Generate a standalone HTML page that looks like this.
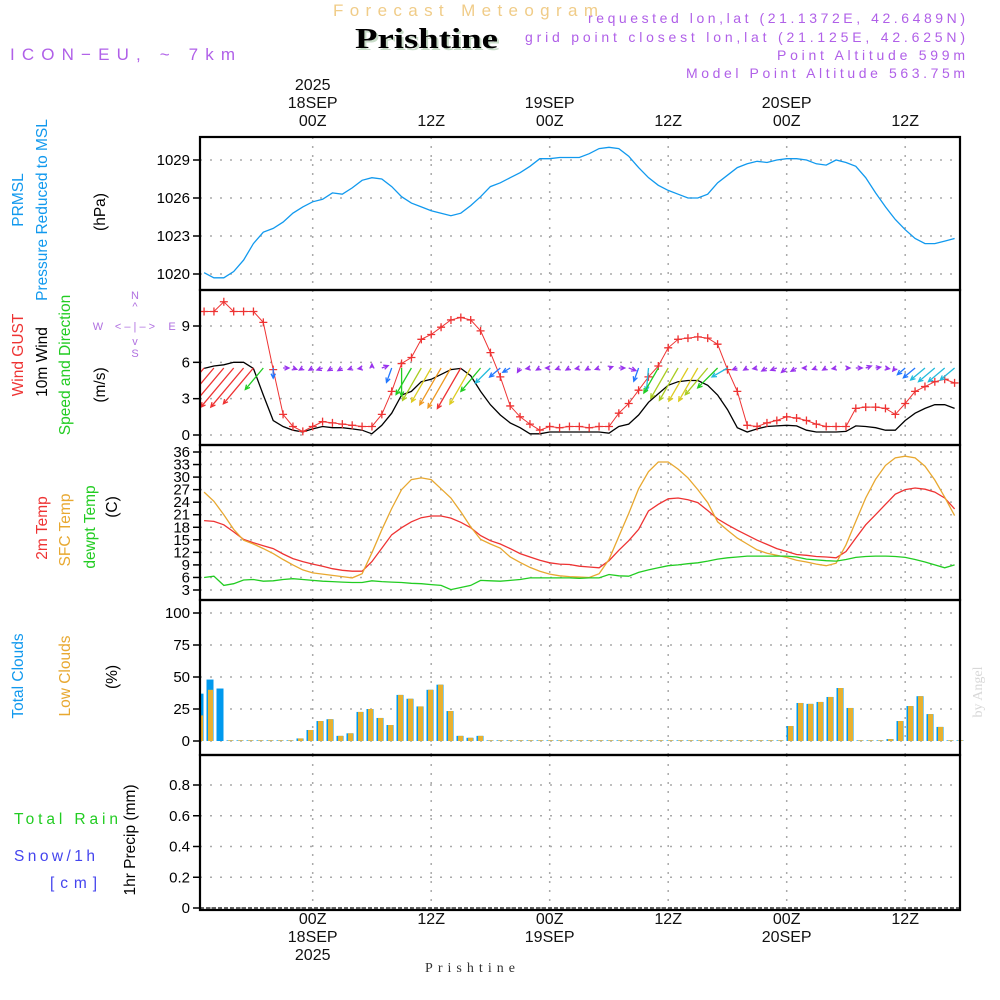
<!DOCTYPE html>
<html><head><meta charset="utf-8"><style>
html,body{margin:0;padding:0;background:#fff}
svg{display:block;font-family:"Liberation Sans",sans-serif}
</style></head><body>
<svg id="c" width="1000" height="1000" viewBox="0 0 1000 1000">
<defs><clipPath id="wclip"><rect x="200" y="290" width="760" height="155"/></clipPath></defs>
<g>
<text x="333" y="16" font-size="17" fill="#f0cc88" textLength="265" lengthAdjust="spacing">Forecast Meteogram</text>
<text x="357" y="50" font-size="28" font-weight="bold" font-family="Liberation Serif,serif" fill="#c8dcc8" textLength="143" lengthAdjust="spacingAndGlyphs">Prishtine</text>
<text x="355" y="48" font-size="28" font-weight="bold" font-family="Liberation Serif,serif" fill="#000" textLength="143" lengthAdjust="spacingAndGlyphs">Prishtine</text>
<text x="10" y="60" font-size="17" fill="#b060e8" textLength="225" lengthAdjust="spacing">ICON−EU, ~ 7km</text>
<g font-size="14" fill="#b060e8" text-anchor="end">
<text x="965" y="23" textLength="377" lengthAdjust="spacing">requested lon,lat (21.1372E, 42.6489N)</text>
<text x="965" y="42" textLength="440" lengthAdjust="spacing">grid point closest lon,lat (21.125E, 42.625N)</text>
<text x="965" y="60" textLength="188" lengthAdjust="spacing">Point Altitude 599m</text>
<text x="965" y="78" textLength="279" lengthAdjust="spacing">Model Point Altitude 563.75m</text>
</g>
</g>
<g id="labels" font-size="15.5">
<text transform="translate(23,200) rotate(-90)" text-anchor="middle" fill="#1199ee">PRMSL</text>
<text transform="translate(47,210) rotate(-90)" text-anchor="middle" fill="#1199ee">Pressure Reduced to MSL</text>
<text transform="translate(105,212) rotate(-90)" text-anchor="middle" fill="#000">(hPa)</text>
<text transform="translate(23,355) rotate(-90)" text-anchor="middle" fill="#ee3333">Wind GUST</text>
<text transform="translate(47,362) rotate(-90)" text-anchor="middle" fill="#000">10m Wind</text>
<text transform="translate(70,365) rotate(-90)" text-anchor="middle" fill="#22cc22">Speed and Direction</text>
<text transform="translate(105,385) rotate(-90)" text-anchor="middle" fill="#000">(m/s)</text>
<g fill="#b070e0" font-size="11">
<text x="135" y="299" text-anchor="middle">N</text>
<text x="135" y="310" text-anchor="middle">^</text>
<text x="98" y="330" text-anchor="middle">W</text>
<text x="135" y="330" text-anchor="middle">&lt; – | – &gt;</text>
<text x="172" y="330" text-anchor="middle">E</text>
<text x="135" y="345" text-anchor="middle">v</text>
<text x="135" y="357" text-anchor="middle">S</text>
</g>
<text transform="translate(47,528) rotate(-90)" text-anchor="middle" fill="#ee3333">2m Temp</text>
<text transform="translate(70,530) rotate(-90)" text-anchor="middle" fill="#e8a830">SFC Temp</text>
<text transform="translate(95,527) rotate(-90)" text-anchor="middle" fill="#22cc22">dewpt Temp</text>
<text transform="translate(117,507) rotate(-90)" text-anchor="middle" fill="#000">(C)</text>
<text transform="translate(23,676) rotate(-90)" text-anchor="middle" fill="#1199ee">Total Clouds</text>
<text transform="translate(70,676) rotate(-90)" text-anchor="middle" fill="#e8a830">Low Clouds</text>
<text transform="translate(117,677) rotate(-90)" text-anchor="middle" fill="#000">(%)</text>
<text transform="translate(135,840) rotate(-90)" text-anchor="middle" fill="#000">1hr Precip (mm)</text>
<text x="14" y="824" fill="#22cc22" textLength="104" lengthAdjust="spacing">Total   Rain</text>
<text x="14" y="861" fill="#4444ee" textLength="81" lengthAdjust="spacing">Snow/1h</text>
<text x="50" y="888" fill="#4444ee" textLength="47" lengthAdjust="spacing">[cm]</text>
<text transform="translate(982,692) rotate(-90)" text-anchor="middle" fill="#d8d8d8" font-size="14" font-family="Liberation Serif,serif">by Angel</text>
<text x="425" y="972" fill="#333" font-size="14" font-family="Liberation Serif,serif" textLength="90" lengthAdjust="spacing">Prishtine</text>
</g>
</svg>
<script>
const timeTicks=[0,12,24,36,48,60];
const topTimeLabels=["00Z","12Z","00Z","12Z","00Z","12Z"];
const dayLabels=["18SEP","","19SEP","","20SEP",""];
const yearLabels=["2025","","","","",""];
const pressure=[1020.1,1019.7,1019.7,1020.2,1021.1,1022.4,1023.3,1023.6,1024.1,1024.8,1025.3,1025.7,1025.9,1026.4,1026.3,1026.8,1027.4,1027.6,1027.5,1026.9,1026.1,1025.6,1025.3,1025.0,1024.8,1024.6,1024.8,1025.4,1026.1,1026.9,1027.2,1027.6,1028.0,1028.5,1029.1,1029.1,1029.2,1029.2,1029.2,1029.5,1029.9,1030.0,1029.9,1029.3,1028.4,1027.6,1027.0,1026.6,1026.3,1026.0,1026.0,1026.3,1027.2,1027.8,1028.4,1028.7,1028.9,1028.8,1029.0,1029.1,1029.1,1029.0,1028.7,1028.6,1029.0,1028.8,1028.5,1027.6,1026.4,1025.3,1024.3,1023.5,1022.8,1022.4,1022.4,1022.6,1022.8];
const pressureTicks=[1020,1023,1026,1029];
const gust=[10.2,10.2,11.0,10.2,10.2,10.2,9.3,5.4,1.7,0.7,0.3,0.7,1.1,1.0,0.9,0.8,0.7,0.7,1.7,3.6,5.9,6.4,7.9,8.3,8.9,9.5,9.7,9.5,8.6,6.8,4.8,2.4,1.5,0.9,0.4,0.7,0.6,0.7,0.7,0.6,0.7,0.7,1.8,2.6,3.7,4.8,5.7,7.2,7.9,8.0,8.1,8.0,7.5,5.4,3.6,0.8,0.7,1.0,1.2,1.5,1.4,1.2,0.9,0.7,0.7,0.7,2.2,2.3,2.3,2.2,1.7,2.6,3.6,4.0,4.4,4.6,4.3];
const wind=[5.5,5.7,5.8,6.0,6.0,5.5,3.3,1.2,0.7,0.4,0.25,0.5,0.7,0.6,0.6,0.5,0.4,0.1,0.8,1.8,3.3,3.6,4.4,4.6,5.0,5.4,5.5,4.9,3.6,2.5,1.65,1.0,0.6,0.1,0.1,0.25,0.25,0.25,0.25,0.25,0.25,0.15,0.7,0.9,1.65,2.7,3.4,4.1,4.4,4.5,4.5,4.1,3.3,2.1,0.6,0.25,0.5,0.7,0.75,0.8,0.75,0.4,0.25,0.25,0.25,0.3,0.75,0.7,0.6,0.4,0.4,1.2,1.8,2.2,2.5,2.5,2.2];
const windDir=[40,40,40,40,40,40,40,0,270,290,60,60,70,60,60,70,80,180,250,20,0,30,30,30,30,30,30,30,40,45,50,60,30,80,60,90,70,60,80,60,70,250,270,290,20,5,30,30,30,30,30,40,45,60,70,60,80,60,70,50,60,90,70,60,80,270,270,250,260,280,40,50,50,50,50,50,50];
const windTicks=[0,3,6,9];
const t2m=[19.6,19.4,18.6,16.9,15.1,14.3,13.6,12.9,11.6,10.5,9.8,9.2,8.7,8.1,7.7,7.5,7.5,9.8,13.0,16.2,17.9,19.3,20.3,20.7,20.7,20.2,19.2,17.9,16.0,14.8,14.0,12.9,11.7,10.9,10.1,9.5,9.2,9.1,8.7,8.5,8.3,10.0,12.5,14.8,17.5,21.9,23.5,24.8,25.0,24.6,23.9,22.0,20.0,18.6,17.3,16.1,14.9,13.9,12.9,12.2,11.5,11.3,11.0,10.9,10.7,12.2,15.4,18.6,21.0,23.5,25.9,27.0,27.4,27.1,26.4,25.0,22.4];
const sfcT=[26.4,24.2,21.0,17.5,14.9,14.0,12.9,11.7,10.3,9.0,7.8,7.1,6.8,6.5,6.2,5.9,6.9,11.9,17.4,22.5,27.0,29.4,29.8,29.4,27.2,25.0,21.7,18.1,15.1,14.0,13.0,10.9,9.6,8.4,7.5,6.8,6.4,6.2,6.1,6.0,6.9,10.3,15.8,21.3,27.2,31.3,33.6,33.6,31.9,29.8,27.0,23.9,19.3,17.3,15.4,14.0,12.6,11.8,11.3,10.8,10.1,9.7,9.2,8.8,9.4,13.8,19.4,25.0,29.5,32.8,34.6,35.0,34.6,32.6,29.3,25.2,20.8];
const dewpt=[6.0,6.3,4.1,4.5,5.4,5.5,5.1,5.2,5.5,5.7,5.5,5.3,5.1,5.0,4.9,4.8,4.8,5.2,5.0,4.9,4.8,4.6,4.5,4.3,4.1,3.1,3.6,4.1,5.3,5.2,5.1,5.3,5.5,5.9,5.9,5.9,5.9,5.9,5.8,5.9,5.9,6.7,6.4,6.3,7.2,7.8,8.3,8.8,9.0,9.3,9.5,9.9,10.4,10.7,10.9,11.1,11.1,11.1,11.1,11.1,10.9,10.4,10.2,10.0,9.9,10.3,10.8,11.0,11.1,11.1,11.0,10.8,10.3,9.7,9.0,8.3,9.0];
const tempTicks=[3,6,9,12,15,18,21,24,27,30,33,36];
const totalCloud=[37,48,41,0.5,0.5,0.5,0.5,0.5,0.5,0.5,2,8.6,15.6,17,4,6,22.7,25,18,12.5,36,33,27,40,44,23.4,4,2.5,4,0.5,0.5,0.5,0.5,0.5,0.5,0.5,0.5,0.5,0.5,0.5,0.5,0.5,0.5,0.5,0.5,0.5,0.5,0.5,0.5,0.5,0.5,0.5,0.5,0.5,0.5,0.5,0.5,0.5,0.5,11.7,29.7,29,30.5,34.4,41.4,25.8,0.5,0.5,0.5,1.5,15.6,27.3,35,21,11,0.5,0.5];
const lowCloud=[20,40,0,0.5,0.5,0.5,0.5,0.5,0.5,0.5,2,8.6,15.6,17,4,6,22.7,25,18,12.5,36,33,27,40,44,23.4,4,2.5,4,0.5,0.5,0.5,0.5,0.5,0.5,0.5,0.5,0.5,0.5,0.5,0.5,0.5,0.5,0.5,0.5,0.5,0.5,0.5,0.5,0.5,0.5,0.5,0.5,0.5,0.5,0.5,0.5,0.5,0.5,11.7,29.7,29,30.5,34.4,41.4,25.8,0.5,0.5,0.5,1.5,15.6,27.3,35,21,11,0.5,0.5];
const cloudTicks=[0,25,50,75,100];
const precipTicks=[0,0.2,0.4,0.6,0.8];
const startHour=-11;

const NS="http://www.w3.org/2000/svg";
const svg=document.getElementById('c');
function mk(tag,attrs,parent){const e=document.createElementNS(NS,tag);for(const k in attrs)e.setAttribute(k,attrs[k]);(parent||svg).appendChild(e);return e;}
const X0=200,X1=960;
function xT(t){return 312.7+t*9.875;}
function xHour(i){return xT(startHour+i);}
function lin(v0,y0,v1,y1){return v=>y0+(v-v0)*(y1-y0)/(v1-v0);}
const yP=lin(1020,274,1029,160);
const yW=lin(0,435,9,326);
const yTm=lin(3,590,36,452);
const yC=lin(0,741,100,613);
const yR=lin(0,908,0.8,785);
const panels=[[137,290],[290,445],[445,600],[600,755],[755,910]];

const grid=mk('g',{});


panels.forEach(p=>{timeTicks.forEach(t=>{const l=mk('line',{x1:xT(t),x2:xT(t),y1:p[0],y2:p[1],stroke:'#aaa','stroke-width':1.5,'stroke-dasharray':'2,7'},grid);});});
function yAxis(ticks,fy,fmt,name){
  const g=mk('g',{});
  
  
  ticks.forEach(v=>{const y=fy(v);
    const l=mk('line',{x1:X0,x2:X1,y1:y,y2:y,stroke:'#aaa','stroke-width':1.5,'stroke-dasharray':'2,8'},g);
    
    const tk=mk('line',{x1:X0-7,x2:X0,y1:y,y2:y,stroke:'#000','stroke-width':1.5},g);
    
    const tx=mk('text',{x:X0-10,y:y+5,'text-anchor':'end','font-size':15,fill:'#000'},g);tx.textContent=fmt(v);
    
  });
}
yAxis(pressureTicks,yP,v=>v,'pressure-axis');
yAxis(windTicks,yW,v=>v,'wind-axis');
yAxis(tempTicks,yTm,v=>v,'temp-axis');
yAxis(cloudTicks,yC,v=>v,'cloud-axis');
yAxis(precipTicks,yR,v=>v===0?'0':v.toFixed(1),'precip-axis');

timeTicks.forEach((t,i)=>{
  const x=xT(t);
  [[topTimeLabels[i],126],[dayLabels[i],108],[yearLabels[i],90]].forEach(([s,y])=>{if(!s)return;const e=mk('text',{x:x,y:y,'text-anchor':'middle','font-size':16,fill:'#111'});e.textContent=s;});
  [[topTimeLabels[i],924],[dayLabels[i],942],[yearLabels[i],960]].forEach(([s,y])=>{if(!s)return;const e=mk('text',{x:x,y:y,'text-anchor':'middle','font-size':16,fill:'#111'});e.textContent=s;});
});

function path(arr,fy,color,name,w){
  const d=arr.map((v,i)=>(i?'L':'M')+xHour(i).toFixed(1)+' '+fy(v).toFixed(1)).join(' ');
  const p=mk('path',{d:d,fill:'none',stroke:color,'stroke-width':w||1.3});
  
  
  return p;
}
path(pressure,yP,'#1199ee','pressure-line');
path(wind,yW,'#000','wind-line');
path(gust,yW,'#ee3333','gust-line',1);
const gm=mk('g',{stroke:'#ee3333','stroke-width':1.3});


gust.forEach((v,i)=>{const x=xHour(i),y=yW(v);const p=mk('path',{d:`M${x-4} ${y}H${x+4}M${x} ${y-4}V${y+4}`},gm);});

function wcol(s){if(s<1)return'#9933ee';if(s<2)return'#2277ff';if(s<3)return'#22bbdd';if(s<4)return'#22cc22';if(s<4.5)return'#aacc22';if(s<5)return'#ddcc22';if(s<5.45)return'#ee9922';return'#ee3333';}
const wa=mk('g',{'stroke-width':1.3,fill:'none','clip-path':'url(#wclip)'});


wind.forEach((s,i)=>{
  const x=xHour(i),y=368,L=Math.max(s*8.5,4),a=windDir[i]*Math.PI/180;
  const ux=-Math.sin(a),uy=Math.cos(a);
  const tx=x+ux*L,ty=y+uy*L;
  const h=5,c=Math.cos(0.45),sn=Math.sin(0.45);
  const bx=-ux,by=-uy;
  const h1x=tx+h*(bx*c-by*sn),h1y=ty+h*(bx*sn+by*c);
  const h2x=tx+h*(bx*c+by*sn),h2y=ty+h*(-bx*sn+by*c);
  const p=mk('path',{d:`M${x.toFixed(1)} ${y}L${tx.toFixed(1)} ${ty.toFixed(1)}M${h1x.toFixed(1)} ${h1y.toFixed(1)}L${tx.toFixed(1)} ${ty.toFixed(1)}L${h2x.toFixed(1)} ${h2y.toFixed(1)}`,stroke:wcol(s)},wa);
  
  
});

path(t2m,yTm,'#ee3333','t2m-line');
path(sfcT,yTm,'#e8a830','sfc-temp-line');
path(dewpt,yTm,'#22cc22','dewpt-line');

function xBar(i){return 200+10*i;}
const cg=mk('g',{});


totalCloud.forEach((v,i)=>{
  const x=xBar(i)-3.5,y0=yC(0);
  const b=mk('rect',{x:Math.max(x,X0),y:yC(v),width:x<X0?7-(X0-x):7,height:y0-yC(v),fill:'#0099ee'},cg);
  
  const lv=lowCloud[i];
  if(lv>0){const o=mk('rect',{x:Math.max(x+1.5,X0),y:yC(lv),width:x+1.5<X0?5-(X0-x-1.5):5,height:y0-yC(lv),fill:'#e8b030'},cg);
  }
});

const z=mk('line',{x1:X0,x2:X1,y1:yR(0),y2:yR(0),stroke:'#333','stroke-width':1.5,'stroke-dasharray':'4,2'});


const fr=mk('g',{fill:'none',stroke:'#000'});


panels.forEach(p=>{const r=mk('rect',{x:X0,y:p[0],width:X1-X0,height:p[1]-p[0],'stroke-width':2.2},fr);});
</script>
</body></html>
